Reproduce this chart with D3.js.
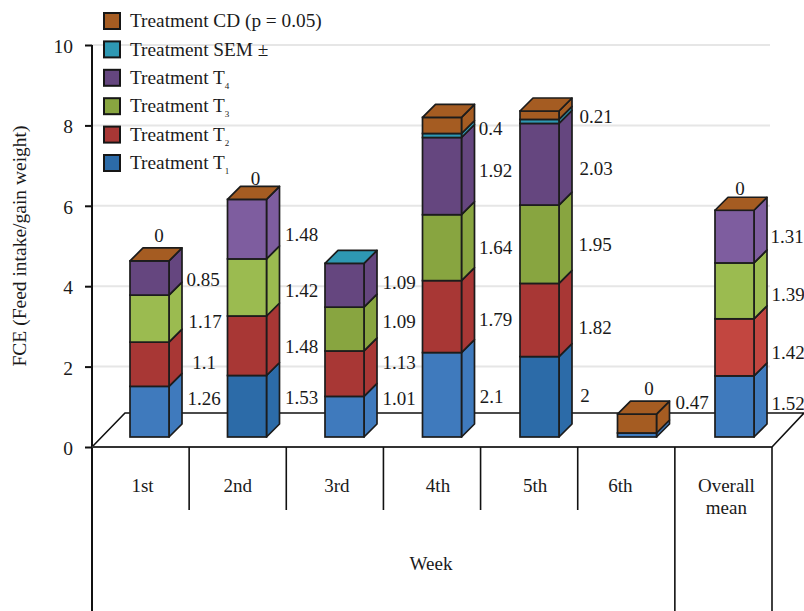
<!DOCTYPE html>
<html>
<head>
<meta charset="utf-8">
<title>FCE by week</title>
<script src="https://cdnjs.cloudflare.com/ajax/libs/d3/7.8.5/d3.min.js"></script>
<style>
html,body{margin:0;padding:0;background:#fff;}
svg{display:block;}
text{font-family:"Liberation Serif","Times New Roman",serif;fill:#1a1a1a;}
</style>
</head>
<body>
<svg id="chart" width="804" height="611"></svg>
<script>
// Categories and tick labels
const weeks = ["1st", "2nd", "3rd", "4th", "5th", "6th", "Overall mean"];
const yTicks = [0, 2, 4, 6, 8, 10];

// Series values per week; null means the series is absent from that stack
const t1  = [1.26, 1.53, 1.01, 2.1, 2, 0.1, 1.52];
const t2  = [1.1, 1.48, 1.13, 1.79, 1.82, null, 1.42];
const t3  = [1.17, 1.42, 1.09, 1.64, 1.95, null, 1.39];
const t4  = [0.85, 1.48, 1.09, 1.92, 2.03, null, 1.31];
const sem = [null, null, 0, 0.1, 0.1, null, null];
const cd  = [0, 0, null, 0.4, 0.21, 0.47, 0];

const seriesKeys = ["t1", "t2", "t3", "t4", "sem", "cd"];
const seriesValues = { t1, t2, t3, t4, sem, cd };
// Values that carry no printed label
const unlabelled = new Set(["sem", "t1:5"]);

// Shades per series, one per week
const fills = {
  t1:  ["#3f7abd", "#2c6ba8", "#3f7abd", "#3f7abd", "#2c6ba8", "#3f7abd", "#3f7abd"],
  t2:  ["#a83735", "#a83735", "#a83735", "#a83735", "#a83735", "#a83735", "#c24640"],
  t3:  ["#9bbb50", "#9bbb50", "#88a540", "#88a540", "#88a540", "#88a540", "#9bbb50"],
  t4:  ["#65467f", "#7e5d9f", "#65467f", "#65467f", "#65467f", "#65467f", "#7e5d9f"],
  sem: Array(7).fill("#2e98b3"),
  cd:  Array(7).fill("#a55c22")
};

// Legend entries, top to bottom, with optional subscript
const legendEntries = [
  { key: "cd",  text: "Treatment CD (p = 0.05)", sub: "", fill: "#a55c22" },
  { key: "sem", text: "Treatment SEM \u00B1",    sub: "", fill: "#2e98b3" },
  { key: "t4",  text: "Treatment T",             sub: "4", fill: "#65467f" },
  { key: "t3",  text: "Treatment T",             sub: "3", fill: "#88a540" },
  { key: "t2",  text: "Treatment T",             sub: "2", fill: "#a83735" },
  { key: "t1",  text: "Treatment T",             sub: "1", fill: "#2c6ba8" }
];

// Hand placement of value labels: [dx, dy] from the default right-hand slot
const labelNudge = {
  "t1:0": [0, -13], "t2:0": [0, -2], "t3:0": [1, 2.5], "t4:0": [-1, 1],
  "t1:1": [0, -9],  "t2:1": [0, 1],  "t3:1": [0, 2.5], "t4:1": [0, 5],
  "t1:2": [0, -18], "t2:2": [0, -11], "t3:2": [0, -8], "t4:2": [0, -3],
  "t1:3": [-5, 2],  "t2:3": [-1, 3], "t3:3": [-1, 0],  "t4:3": [-1, -6], "cd:3": [-6, 2.5],
  "t1:4": [-9, -1], "t2:4": [1, 7],  "t3:4": [1, 0],   "t4:4": [2, 4],   "cd:4": [2, 1],
  "cd:5": [0.5, -21.5],
  "t1:6": [-1, -3.5], "t2:6": [-1, 5], "t3:6": [-1, 3], "t4:6": [-2, 0]
};
// Zero labels sitting above the caps: [dx from bar centre, dy from cap front edge]
const zeroNudge = { 0: [9.5, -26], 1: [8.5, -21], 5: [12, -26], 6: [5.5, -22] };
// Horizontal shift of category labels from their band centres
const weekLabelShift = [2, 0, 2, 6, 6, -6, 3];

const svg = d3.select("#chart");

const y = d3.scaleLinear().domain([0, 10]).range([447, 45]);
const band = d3.scaleBand().domain(weeks).range([92, 772]);
const barLeft = d3.scalePoint().domain(weeks).range([130, 715]);

const barWidth = 39;
const depth = 13;        // oblique offset of bar side and top faces
const floorLift = 10;    // bars stand this far up the floor from the front edge
const floorDepth = 33;   // oblique size of the floor
const labelSize = 19;

// Back-wall gridlines
svg.append("g").selectAll("line")
  .data(yTicks.filter(d => d > 0))
  .join("line")
  .attr("x1", 92).attr("x2", 770)
  .attr("y1", d => y(d)).attr("y2", d => y(d))
  .attr("stroke", "#e6e6e6").attr("stroke-width", 2);

// Floor outline
const floorPath = d3.path();
floorPath.moveTo(92, y(0));
floorPath.lineTo(92 + floorDepth, y(0) - floorDepth - 1);
floorPath.lineTo(804, y(0) - floorDepth - 1);
floorPath.lineTo(772, y(0));
svg.append("path").attr("d", floorPath.toString())
  .attr("fill", "none").attr("stroke", "#111").attr("stroke-width", 1.6);

// Value axis
const yAxis = d3.axisLeft(y).tickValues(yTicks).tickSize(7).tickPadding(12).tickFormat(d3.format("d"));
const yG = svg.append("g").attr("transform", "translate(92,0)").call(yAxis);
yG.select(".domain").remove();
yG.selectAll("line").attr("stroke", "#111").attr("stroke-width", 2);
yG.selectAll("text").attr("font-size", 19.5).attr("font-family", "Liberation Serif").attr("fill", "#1a1a1a").attr("dy", "0.38em");

svg.append("line").attr("x1", 92).attr("x2", 92).attr("y1", y(10)).attr("y2", 611)
  .attr("stroke", "#111").attr("stroke-width", 2);

// Category baseline and separators
svg.append("line").attr("x1", 92).attr("x2", 772).attr("y1", y(0)).attr("y2", y(0))
  .attr("stroke", "#333").attr("stroke-width", 2);
const seps = weeks.map(w => band(w) + band.step()).map((x, i) => ({ x, long: i >= 5 }));
svg.append("g").selectAll("line").data(seps).join("line")
  .attr("x1", d => d.x).attr("x2", d => d.x)
  .attr("y1", y(0)).attr("y2", d => d.long ? 611 : 510)
  .attr("stroke", "#111").attr("stroke-width", 1.6);

// Stacked segments
const table = weeks.map((w, i) => {
  const row = { week: w };
  seriesKeys.forEach(k => { row[k] = seriesValues[k][i] || 0; });
  return row;
});
const stacked = d3.stack().keys(seriesKeys)(table);
const yBar = v => y(v) - floorLift;

const segments = [];
stacked.forEach(layer => {
  layer.forEach((d, i) => {
    const raw = seriesValues[layer.key][i];
    segments.push({ key: layer.key, i, raw, y0: d[0], y1: d[1], week: weeks[i] });
  });
});

const pts = a => a.map(p => p.join(",")).join(" ");
const barStrokeColor = "#1c1c1c";
const barStrokeWidth = 1.7;
const drawn = segments.filter(s => s.raw !== null && s.y1 > s.y0);

const barsG = svg.append("g");
const faces = barsG.selectAll("g").data(drawn).join("g");
faces.append("polygon")
  .attr("points", d => {
    const r = barLeft(d.week) + barWidth;
    return pts([[r, yBar(d.y0)], [r + depth, yBar(d.y0) - depth], [r + depth, yBar(d.y1) - depth], [r, yBar(d.y1)]]);
  })
  .attr("fill", d => fills[d.key][d.i])
  .attr("stroke", barStrokeColor).attr("stroke-width", barStrokeWidth).attr("stroke-linejoin", "round");
faces.append("rect")
  .attr("x", d => barLeft(d.week)).attr("width", barWidth)
  .attr("y", d => yBar(d.y1)).attr("height", d => yBar(d.y0) - yBar(d.y1))
  .attr("fill", d => fills[d.key][d.i]).attr("stroke", barStrokeColor).attr("stroke-width", barStrokeWidth);

// Top cap takes the colour of the uppermost series present in the stack
const caps = weeks.map((w, i) => {
  const present = seriesKeys.filter(k => seriesValues[k][i] !== null);
  const k = present[present.length - 1];
  const total = d3.sum(seriesKeys, s => seriesValues[s][i] || 0);
  return { week: w, i, total, key: k };
});
barsG.append("g").selectAll("polygon").data(caps).join("polygon")
  .attr("points", d => {
    const l = barLeft(d.week), t = yBar(d.total);
    return pts([[l, t], [l + depth, t - depth], [l + barWidth + depth, t - depth], [l + barWidth, t]]);
  })
  .attr("fill", d => fills[d.key][d.i]).attr("stroke", barStrokeColor).attr("stroke-width", barStrokeWidth).attr("stroke-linejoin", "round");

// Value labels to the right of the segments
const labelled = drawn.filter(s => !unlabelled.has(s.key) && !unlabelled.has(`${s.key}:${s.i}`));
svg.append("g").selectAll("text").data(labelled).join("text")
  .attr("x", d => barLeft(d.week) + 74 + (labelNudge[`${d.key}:${d.i}`] || [0, 0])[0])
  .attr("y", d => yBar((d.y0 + d.y1) / 2) + (labelNudge[`${d.key}:${d.i}`] || [0, 0])[1])
  .attr("dy", "0.35em").attr("text-anchor", "middle").attr("font-size", labelSize)
  .text(d => d.raw);

// Zero labels above capped stacks
const zeros = caps.filter(c => zeroNudge[c.i] !== undefined);
svg.append("g").selectAll("text").data(zeros).join("text")
  .attr("x", d => barLeft(d.week) + barWidth / 2 + zeroNudge[d.i][0])
  .attr("y", d => yBar(d.total) + zeroNudge[d.i][1])
  .attr("dy", "0.35em").attr("text-anchor", "middle").attr("font-size", labelSize)
  .text("0");

// Category labels; a two-word label wraps onto a second line
const catG = svg.append("g").selectAll("text").data(weeks).join("text")
  .attr("text-anchor", "middle").attr("font-size", labelSize)
  .attr("x", (d, i) => band(d) + band.bandwidth() / 2 + weekLabelShift[i])
  .attr("y", 492);
catG.selectAll("tspan").data(d => d.split(" ")).join("tspan")
  .attr("x", function () { return d3.select(this.parentNode).attr("x"); })
  .attr("dy", (d, i) => i ? 22 : 0)
  .text(d => d);

svg.append("text").attr("x", 431).attr("y", 570).attr("text-anchor", "middle").attr("font-size", labelSize).text("Week");

svg.append("text")
  .attr("transform", "translate(26,246) rotate(-90)")
  .attr("text-anchor", "middle").attr("font-size", 19.5)
  .text("FCE (Feed intake/gain weight)");

// Legend
const legendY = d3.scalePoint().domain(legendEntries.map(d => d.key)).range([21, 163]);
const leg = svg.append("g").selectAll("g").data(legendEntries).join("g")
  .attr("transform", d => `translate(104,${legendY(d.key)})`);
leg.append("rect").attr("x", 0).attr("y", -8).attr("width", 16).attr("height", 16)
  .attr("fill", d => d.fill).attr("stroke", "#161616").attr("stroke-width", 2);
const legText = leg.append("text").attr("x", 26).attr("y", 0).attr("dy", "0.32em").attr("font-size", 19.3);
legText.append("tspan").text(d => d.text);
legText.append("tspan").attr("font-size", 9).attr("dy", 5).text(d => d.sub);
</script>
</body>
</html>
